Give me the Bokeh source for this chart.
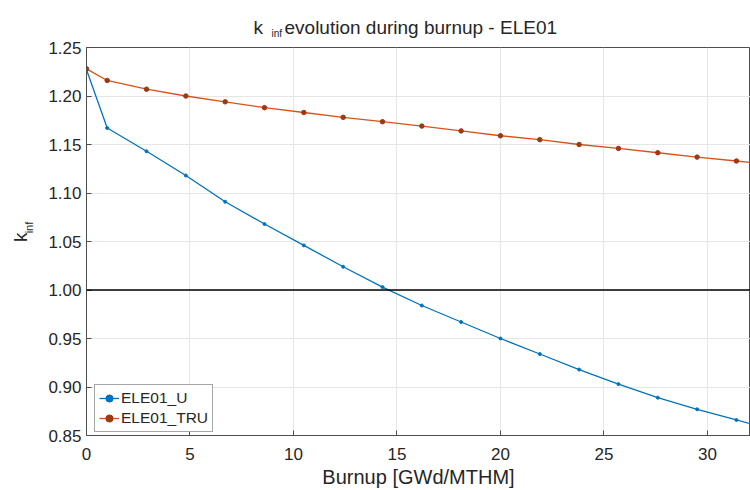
import math
from bokeh.plotting import figure
from bokeh.layouts import column, row
from bokeh.models import (Range1d, FixedTicker, NumeralTickFormatter, Span,
                          Legend, LegendItem)
from bokeh.core.properties import value
from bokeh.embed import file_html
from bokeh.resources import INLINE

# ---- data ----
burnup = [0.0, 1.0, 2.9, 4.8, 6.7, 8.6, 10.5, 12.4, 14.3, 16.2, 18.1,
          20.0, 21.9, 23.8, 25.7, 27.6, 29.5, 31.4, 33.3]
kinf_u = [1.227, 1.167, 1.143, 1.118, 1.091, 1.068, 1.046, 1.024, 1.003,
          0.984, 0.967, 0.950, 0.934, 0.918, 0.903, 0.889, 0.877, 0.866, 0.855]
kinf_tru = [1.228, 1.216, 1.207, 1.200, 1.194, 1.188, 1.183, 1.178, 1.1735,
            1.169, 1.164, 1.159, 1.155, 1.150, 1.146, 1.1415, 1.137, 1.133, 1.129]
series_names = ["ELE01_U", "ELE01_TRU"]
x_ticks = [0, 5, 10, 15, 20, 25, 30]
y_ticks = [0.85, 0.90, 0.95, 1.00, 1.05, 1.10, 1.15, 1.20, 1.25]
critical_k = 1.0
title_main = "evolution during burnup - ELE01"
title_k = "k"
title_sub = "inf"
x_label = "Burnup [GWd/MTHM]"

FONT = "Liberation Sans"
BLUE = "#0072BD"
ORANGE = "#D95319"
AXIS = "#4d4d4d"
TXT = "#262626"

TOP_H = 39
LEFT_W = 40
W, H = 750, 490


def blank(w, h):
    f = figure(width=w, height=h, output_backend="svg", toolbar_location=None,
               x_range=Range1d(0, w), y_range=Range1d(0, h),
               x_axis_type=None, y_axis_type=None,
               min_border=0, outline_line_color=None)
    f.grid.visible = False
    f.background_fill_color = "white"
    f.border_fill_color = "white"
    return f


def txt(f, x, y, s, size, angle=0.0):
    f.text(x=[x], y=[y], text=[s], text_font=value(FONT), text_font_size=size,
           text_color=TXT, text_align="left", text_baseline="alphabetic",
           angle=angle)


# ---- title strip ----
tf = blank(W, TOP_H)
txt(tf, 253, TOP_H - 26.7, title_k, "19px")
txt(tf, 271, TOP_H - 33, title_sub, "10px")
txt(tf, 284, TOP_H - 26.7, title_main, "19px")

# ---- y label strip ----
ph = H - TOP_H
lf = blank(LEFT_W, ph)
txt(lf, 20, H - 265, title_k, "19px", math.pi / 2)
txt(lf, 28, H - 255, title_sub, "11px", math.pi / 2)

# ---- main plot ----
p = figure(width=W - LEFT_W, height=ph, output_backend="svg", toolbar_location=None,
           x_range=Range1d(0, 32.08), y_range=Range1d(0.85, 1.25),
           min_border_left=86 - LEFT_W, min_border_top=47 - TOP_H,
           min_border_bottom=H - 435, min_border_right=0,
           outline_line_color=AXIS, outline_line_width=1)
p.background_fill_color = "white"
p.border_fill_color = "white"

for ax in (p.xaxis[0], p.yaxis[0]):
    ax.axis_line_color = AXIS
    ax.major_tick_line_color = AXIS
    ax.major_tick_in = 5
    ax.major_tick_out = 0
    ax.minor_tick_line_color = None
    ax.major_label_text_font = FONT
    ax.major_label_text_font_size = "17px"
    ax.major_label_text_color = TXT

p.xaxis.ticker = FixedTicker(ticks=x_ticks)
p.yaxis.ticker = FixedTicker(ticks=y_ticks)
p.yaxis.formatter = NumeralTickFormatter(format="0.00")
p.xaxis.major_label_standoff = 12
p.yaxis.major_label_standoff = 5
p.xaxis.axis_label = x_label
p.xaxis.axis_label_text_font = FONT
p.xaxis.axis_label_text_font_size = "20px"
p.xaxis.axis_label_text_font_style = "normal"
p.xaxis.axis_label_text_color = TXT
p.xaxis.axis_label_standoff = 3

p.xgrid.grid_line_color = "#e6e6e6"
p.ygrid.grid_line_color = "#e6e6e6"

p.add_layout(Span(location=critical_k, dimension="width", line_color="black",
                  line_width=1.5))

l1 = p.line(burnup, kinf_u, line_color=BLUE, line_width=1.3)
s1 = p.scatter(burnup, kinf_u, size=3, color=BLUE)
l2 = p.line(burnup, kinf_tru, line_color=ORANGE, line_width=1.3)
s2 = p.scatter(burnup, kinf_tru, size=4.5, color="#9c3a12")

legend = Legend(items=[LegendItem(label=series_names[0], renderers=[l1, s1]),
                       LegendItem(label=series_names[1], renderers=[l2, s2])],
                location=(8, 3), label_text_font=FONT, label_text_font_size="15.5px",
                label_text_color=TXT, glyph_width=20, glyph_height=18,
                label_height=18, label_standoff=2, padding=4, spacing=2, margin=0,
                border_line_color=AXIS, border_line_width=1,
                background_fill_color="white", background_fill_alpha=1)
p.add_layout(legend)

layout = column(tf, row(lf, p, spacing=0), spacing=0)
open("out.html", "w").write(file_html(layout, INLINE))
